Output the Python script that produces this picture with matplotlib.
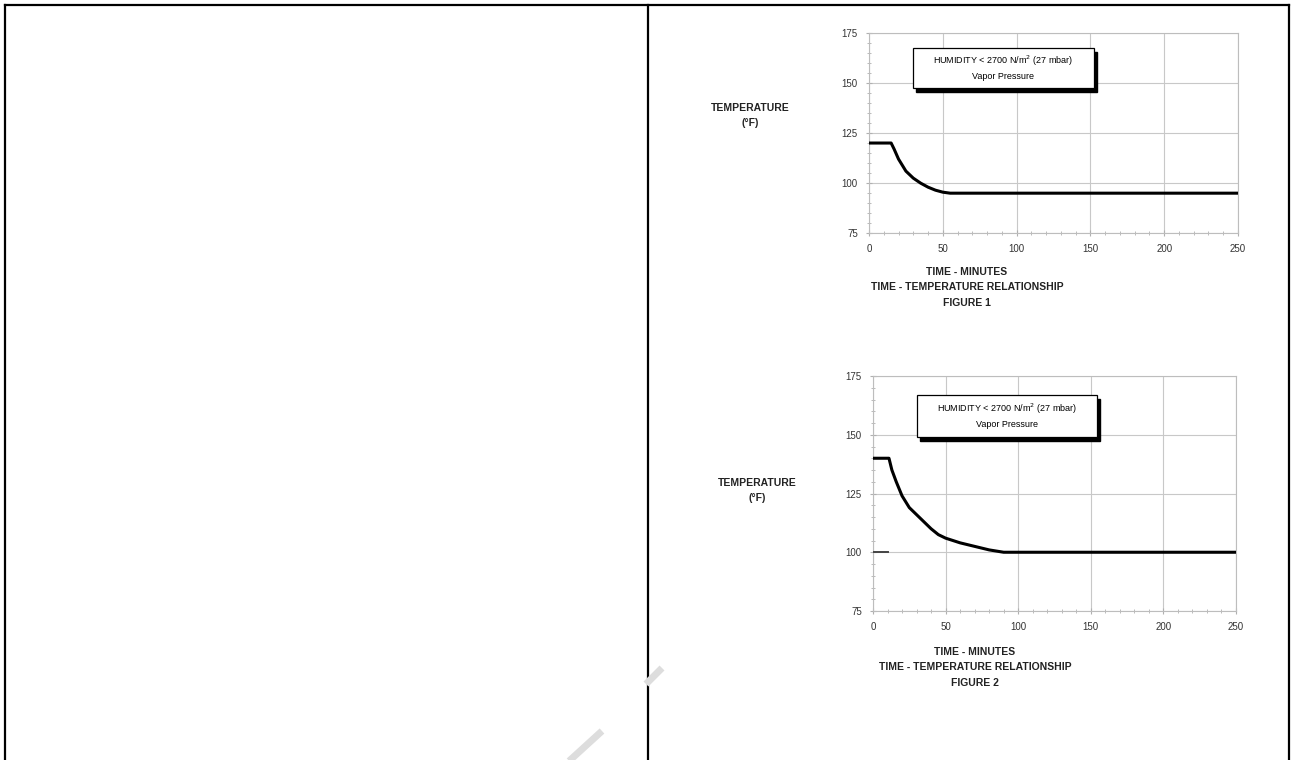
import numpy as np
import matplotlib
matplotlib.use("Agg")
import matplotlib.pyplot as plt
from matplotlib.patches import Rectangle
from matplotlib.lines import Line2D

plt.rcParams['font.family'] = ['Liberation Sans Narrow', 'Liberation Sans', 'DejaVu Sans']

# =========================
# data
# =========================
fig1_time = [0, 15, 17, 20, 25, 30, 35, 40, 45, 50, 55, 60, 250]
fig1_temp = [120, 120, 117, 112, 106, 102.5, 100, 98, 96.5, 95.5, 95, 95, 95]

fig2_time = [0, 11, 13, 16, 20, 25, 30, 35, 40, 45, 50, 60, 70, 80, 90, 250]
fig2_temp = [140, 140, 135, 130, 124, 119, 116, 113, 110, 107.5, 106, 104, 102.5, 101, 100, 100]
fig2_stub_time = [0, 10]
fig2_stub_temp = [100, 100]

x_ticks = [0, 50, 100, 150, 200, 250]
y_ticks = [75, 100, 125, 150, 175]
box_lines = ["HUMIDITY < 2700 N/m$^2$ (27 mbar)", "Vapor Pressure"]
y_label = ["TEMPERATURE", "(°F)"]
caption1 = ["TIME - MINUTES", "TIME - TEMPERATURE RELATIONSHIP", "FIGURE 1"]
caption2 = ["TIME - MINUTES", "TIME - TEMPERATURE RELATIONSHIP", "FIGURE 2"]

W, H = 1293, 760
fig = plt.figure(figsize=(W / 100, H / 100), dpi=100)
fig.patch.set_facecolor("white")


def px(x, y):
    # pixel position -> figure fraction
    return x / W, 1 - y / H


def setup_axes(rect, box_rect):
    ax = fig.add_axes(rect)
    ax.set_xlim(0, 250)
    ax.set_ylim(75, 175)
    ax.set_xticks(x_ticks)
    ax.set_yticks(y_ticks)
    ax.set_xticks(np.arange(0, 251, 10), minor=True)
    ax.set_yticks(np.arange(75, 176, 5), minor=True)
    ax.grid(True, which="major", color="#c8c8c8", lw=0.8)
    for s in ax.spines.values():
        s.set_color("#bdbdbd")
        s.set_linewidth(0.8)
    ax.tick_params(which="both", direction="inout", color="#b0b0b0",
                   labelsize=7, labelcolor="#333333", pad=6)
    ax.tick_params(which="major", length=4)
    ax.tick_params(which="minor", length=3)
    ax.set_axisbelow(True)
    # humidity box with drop shadow
    x0, y0, w, h = box_rect
    ax.add_patch(Rectangle((x0 + 0.008, y0 - 0.018), w, h, transform=ax.transAxes,
                           facecolor="black", edgecolor="black", zorder=4))
    ax.add_patch(Rectangle((x0, y0), w, h, transform=ax.transAxes,
                           facecolor="white", edgecolor="black", lw=0.9, zorder=5))
    ax.text(x0 + w / 2, y0 + h * 0.68, box_lines[0], transform=ax.transAxes,
            ha="center", va="center", fontsize=6.5, zorder=6)
    ax.text(x0 + w / 2, y0 + h * 0.3, box_lines[1], transform=ax.transAxes,
            ha="center", va="center", fontsize=6.5, zorder=6)
    return ax


# =========================
# figure 1
# =========================
ax1 = setup_axes([869 / W, 1 - 233.3 / H, 369 / W, 200.6 / H],
                 (0.119, 0.724, 0.49, 0.20))
ax1.plot(fig1_time, fig1_temp, color="black", lw=2.2, zorder=3)

# =========================
# figure 2
# =========================
ax2 = setup_axes([873 / W, 1 - 611 / H, 363 / W, 235 / H],
                 (0.121, 0.74, 0.497, 0.18))
ax2.plot(fig2_time, fig2_temp, color="black", lw=2.2, zorder=3)
ax2.plot(fig2_stub_time, fig2_stub_temp, color="#444444", lw=1.4, zorder=3)

# =========================
# labels
# =========================
for (x, y0), lines in [((750, 108), y_label), ((757, 483), y_label)]:
    for i, t in enumerate(lines):
        fig.text(*px(x, y0 + i * 15), t, ha="center", va="center",
                 fontsize=7.5, fontweight="bold", color="#222222")

for (x, y0), lines in [((967, 272), caption1), ((975, 652), caption2)]:
    for i, t in enumerate(lines):
        fig.text(*px(x, y0 + i * 15.5), t, ha="center", va="center",
                 fontsize=7.5, fontweight="bold", color="#222222")

# =========================
# table borders + watermark fragments
# =========================
lw = 1.6
for xs, ys in [([5, 5], [5, 760]), ([648, 648], [5, 760]), ([1289, 1289], [5, 760]),
               ([5, 1289], [5, 5])]:
    fig.add_artist(Line2D([x / W for x in xs], [1 - y / H for y in ys],
                          color="black", lw=lw, transform=fig.transFigure))

for xs, ys in [([568, 602], [762, 731]), ([646, 662], [684, 668])]:
    fig.add_artist(Line2D([x / W for x in xs], [1 - y / H for y in ys],
                          color="#dddddd", lw=5, transform=fig.transFigure,
                          solid_capstyle="butt"))

fig.savefig("out.png", dpi=100, facecolor="white")
